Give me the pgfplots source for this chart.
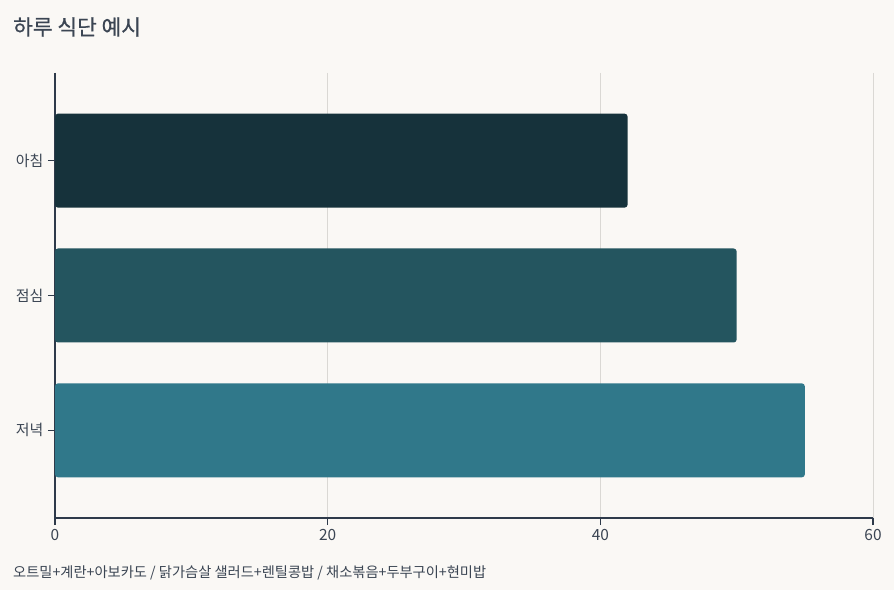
\documentclass[border=0pt]{standalone}
\usepackage{pgfplots}
\pgfplotsset{compat=1.18}
\usepackage{fontspec}
\setmainfont{Noto Sans CJK KR}
\newfontfamily\titlefont{Noto Sans CJK KR}[FakeBold=0.6]
\definecolor{bg}{HTML}{FAF8F5}
\definecolor{txt}{HTML}{3B4553}
\definecolor{axl}{HTML}{2E3A4A}
\definecolor{grd}{HTML}{DAD8D4}
\definecolor{c1}{HTML}{16323B}
\definecolor{c2}{HTML}{24555F}
\definecolor{c3}{HTML}{30788A}
\begin{document}
\begin{tikzpicture}[x=1bp,y=1bp]
\fill[bg] (0,0) rectangle (894,590);
\node[anchor=west,text=txt,font=\titlefont\fontsize{21.5}{24}\selectfont,inner sep=0pt] at (13,563) {하루 식단 예시};
\node[anchor=west,text=txt,font=\fontsize{14.3}{16}\selectfont,inner sep=0pt] at (13,17) {오트밀+계란+아보카도 / 닭가슴살 샐러드+렌틸콩밥 / 채소볶음+두부구이+현미밥};
\begin{axis}[
  at={(55bp,72bp)}, anchor=south west,
  scale only axis, width=818bp, height=445bp,
  xmin=0, xmax=60, ymin=-0.65, ymax=2.65, y dir=reverse,
  axis x line*=bottom, axis y line*=left,
  axis line style={axl, line width=1.6bp, -},
  xtick={0,20,40,60}, ytick={0,1,2}, yticklabels={아침,점심,저녁},
  tick style={axl, line width=1.6bp},
  tick align=outside, major tick length=7bp,
  xmajorgrids, major grid style={grd, line width=0.8bp},
  ticklabel style={text=txt, font=\fontsize{15}{17}\selectfont},
  yticklabel style={xshift=-1bp},
  xticklabel style={font=\fontsize{15.5}{17}\selectfont, yshift=-1bp},
  /pgf/number format/assume math mode=true,
  xbar, bar width=94bp, bar shift=0pt,
  clip=false,
]
\addplot[fill=c1, draw=none, rounded corners=3bp] coordinates {(42,0)};
\addplot[fill=c2, draw=none, rounded corners=3bp] coordinates {(50,1)};
\addplot[fill=c3, draw=none, rounded corners=3bp] coordinates {(55,2)};
\end{axis}
\end{tikzpicture}
\end{document}
